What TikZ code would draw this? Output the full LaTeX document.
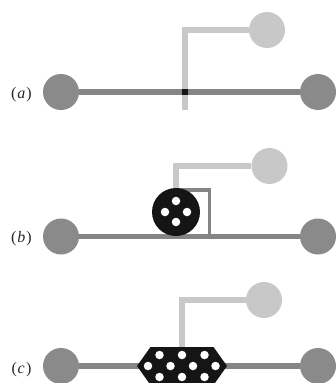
\documentclass[tikz,border=0pt]{standalone}
\usepackage{fontspec}
\setmainfont{Liberation Serif}
\pgfdeclarelayer{bg}
\pgfsetlayers{bg,main}
\definecolor{wiredark}{HTML}{858585}
\definecolor{paddark}{HTML}{8A8A8A}
\definecolor{wirelight}{HTML}{C8C8C8}
\definecolor{beadblack}{HTML}{151515}
\tikzset{
  pad/.style={circle,fill=paddark,minimum size=36pt,inner sep=0pt},
  gate/.style={circle,fill=wirelight,minimum size=36pt,inner sep=0pt},
  mainwire/.style={draw=wiredark,line width=5.5pt},
  gatewire/.style={draw=wirelight,line width=5.5pt},
  bracket/.style={draw=wiredark,line width=3.5pt},
  dot/.style={circle,fill=white,minimum size=8.5pt,inner sep=0pt},
  panellabel/.style={font=\fontsize{16}{18}\selectfont,inner sep=0pt,text=black!85}
}
\begin{document}
\begin{tikzpicture}[x=1pt,y=-1pt]
\useasboundingbox (0,0) rectangle (336,383);
\clip (0,0) rectangle (336,383);

% ---------- (a) bare crossing ----------
\node[panellabel] (labA) at (21.5,95) {(\kern0.8pt\textit{a}\kern1.2pt)};
\node[pad] (padAL) at (61,92) {};
\node[pad] (padAR) at (318,92) {};
\node[gate] (gateA) at (267,30) {};
\coordinate (tailA) at (185,110);
\begin{pgfonlayer}{bg}
  \draw[mainwire] (padAL) -- (padAR);
  \draw[gatewire] (gateA.west) -| (tailA);
\end{pgfonlayer}
\node[fill=beadblack,minimum size=5.5pt,inner sep=0pt] (crossA) at (185,92) {};

% ---------- (b) single bead ----------
\node[panellabel] (labB) at (21.5,239) {(\kern0.8pt\textit{b}\kern1.2pt)};
\node[pad] (padBL) at (61,236.5) {};
\node[pad] (padBR) at (318,236.5) {};
\node[gate] (gateB) at (269.5,166) {};
\node[circle,fill=beadblack,minimum size=48pt,inner sep=0pt] (bead) at (176,212) {};
\coordinate (brkA) at (176,190);
\coordinate (brkB) at (209.5,236.5);
\begin{pgfonlayer}{bg}
  \draw[mainwire] (padBL) -- (padBR);
  \draw[gatewire] (gateB.west) -| (bead.north);
  \draw[bracket] (brkA) -| (brkB);
\end{pgfonlayer}
\foreach \dx/\dy [count=\i] in {0/-11,-11/0,11/0,0/10}
  \node[dot] (bdot\i) at ([shift={(\dx,\dy)}]bead.center) {};

% ---------- (c) hexagonal island ----------
\node[panellabel] (labC) at (21.5,369.5) {(\kern0.8pt\textit{c}\kern1.2pt)};
\node[pad] (padCL) at (61,366) {};
\node[pad] (padCR) at (318,366) {};
\node[gate] (gateC) at (264,300) {};
\coordinate (hexTop) at (182,347);
\begin{pgfonlayer}{bg}
  \draw[mainwire] (padCL) -- (padCR);
  \draw[gatewire] (gateC.west) -| (hexTop);
\end{pgfonlayer}
\fill[beadblack] (137,366) -- (150.5,347) -- (213.5,347) -- (227,366)
  -- (213.5,385) -- (150.5,385) -- cycle;
\foreach \x/\y [count=\i] in {159.5/355,182/355,204.5/355,
    148/366,170.5/366,193/366,215.5/366,
    159.5/377,182/377,204.5/377}
  \node[dot] (hdot\i) at (\x,\y) {};
\end{tikzpicture}
\end{document}
